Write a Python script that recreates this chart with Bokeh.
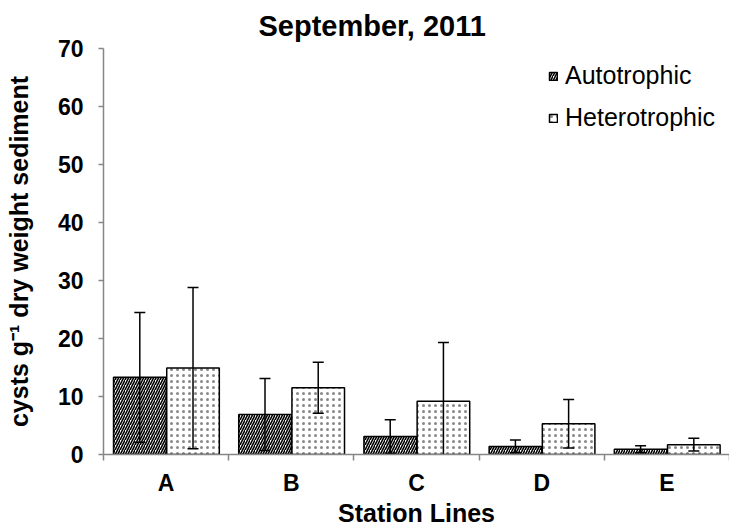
from bokeh.plotting import figure
from bokeh.models import (ColumnDataSource, FixedTicker, Legend, LegendItem,
                          Range1d, Title)
from bokeh.embed import file_html
from bokeh.resources import INLINE

# Station lines and mean cyst counts (cysts per g dry weight sediment), with SD
stations = ["A", "B", "C", "D", "E"]
autotrophic = [13.3, 6.9, 3.1, 1.4, 0.9]
autotrophic_sd = [11.2, 6.2, 2.9, 1.1, 0.6]
heterotrophic = [14.9, 11.5, 9.2, 5.3, 1.7]
heterotrophic_sd = [13.9, 4.4, 10.1, 4.2, 1.1]
y_ticks = [0, 10, 20, 30, 40, 50, 60, 70]

FONT = "Liberation Sans"
AXIS_GREY = "#868686"

n = len(stations)
centers = [i + 0.5 for i in range(n)]
bar_w = 0.42
x_auto = [c - 0.21 for c in centers]
x_het = [c + 0.215 for c in centers]

auto_src = ColumnDataSource(dict(
    x=x_auto, top=autotrophic,
    upper=[v + e for v, e in zip(autotrophic, autotrophic_sd)],
    lower=[v - e for v, e in zip(autotrophic, autotrophic_sd)],
))
het_src = ColumnDataSource(dict(
    x=x_het, top=heterotrophic,
    upper=[v + e for v, e in zip(heterotrophic, heterotrophic_sd)],
    lower=[v - e for v, e in zip(heterotrophic, heterotrophic_sd)],
))

p = figure(width=729, height=529, output_backend="svg", toolbar_location=None,
           x_range=Range1d(0, n), y_range=Range1d(0, 70),
           min_border_left=103, min_border_right=0,
           min_border_top=47, min_border_bottom=75)
p.outline_line_color = None
p.xgrid.grid_line_color = None
p.ygrid.grid_line_color = None
p.background_fill_color = "white"
p.border_fill_color = "white"

# title
p.title = Title(text="September, 2011", align="left", offset=155,
                text_font=FONT, text_font_size="29px", text_font_style="bold",
                text_color="black", standoff=14)

# bars
r_auto = p.vbar(x="x", top="top", width=bar_w, bottom=0, source=auto_src,
                fill_color="white", line_color="black", line_width=1.5,
                hatch_pattern="right_diagonal_line", hatch_color="black",
                hatch_scale=5, hatch_weight=1.6)
r_het = p.vbar(x="x", top="top", width=bar_w, bottom=0, source=het_src,
               fill_color="white", line_color="black", line_width=1.5,
               hatch_pattern="dot", hatch_color="#888888",
               hatch_scale=6, hatch_weight=1.0)

# error bars (stems and caps)
for src in (auto_src, het_src):
    p.segment(x0="x", y0="lower", x1="x", y1="upper", source=src,
              line_color="black", line_width=1.5)
    p.scatter(x="x", y="upper", source=src, marker="dash", size=11,
              line_color="black", line_width=1.5)
    p.scatter(x="x", y="lower", source=src, marker="dash", size=11,
              line_color="black", line_width=1.5)

# x axis: labels at category centres, tick marks at category boundaries
xa = p.xaxis[0]
xa.ticker = FixedTicker(ticks=centers, minor_ticks=list(range(n + 1)))
xa.major_label_overrides = {c: s for c, s in zip(centers, stations)}
xa.major_tick_out = 0
xa.major_tick_in = 0
xa.minor_tick_out = 6
xa.minor_tick_in = 0
xa.minor_tick_line_color = AXIS_GREY
xa.minor_tick_line_width = 1.5
xa.axis_line_color = AXIS_GREY
xa.axis_line_width = 1.5
xa.major_label_text_font = FONT
xa.major_label_text_font_size = "23px"
xa.major_label_text_font_style = "bold"
xa.major_label_text_color = "black"
xa.major_label_standoff = 9
xa.axis_label = "Station Lines"
xa.axis_label_text_font = FONT
xa.axis_label_text_font_size = "25px"
xa.axis_label_text_font_style = "bold"
xa.axis_label_text_color = "black"
xa.axis_label_standoff = 0

# y axis
ya = p.yaxis[0]
ya.ticker = FixedTicker(ticks=y_ticks, minor_ticks=[])
ya.major_tick_out = 5
ya.major_tick_in = 0
ya.major_tick_line_color = AXIS_GREY
ya.major_tick_line_width = 1.5
ya.axis_line_color = AXIS_GREY
ya.axis_line_width = 1.5
ya.major_label_text_font = FONT
ya.major_label_text_font_size = "23px"
ya.major_label_text_font_style = "bold"
ya.major_label_text_color = "black"
ya.major_label_standoff = 15
ya.axis_label = "cysts g\u207b\u00b9 dry weight sediment"
ya.axis_label_text_font = FONT
ya.axis_label_text_font_size = "25px"
ya.axis_label_text_font_style = "bold"
ya.axis_label_text_color = "black"
ya.axis_label_standoff = 22

legend = Legend(items=[LegendItem(label="Autotrophic", renderers=[r_auto]),
                       LegendItem(label="Heterotrophic", renderers=[r_het])],
                location=(445, 322), orientation="vertical",
                glyph_width=10, glyph_height=10, label_standoff=7,
                spacing=13, padding=0, margin=0,
                border_line_color=None, background_fill_alpha=0,
                label_text_font=FONT, label_text_font_size="25px",
                label_text_color="black")
p.add_layout(legend)

open("out.html", "w").write(file_html(p, INLINE))
